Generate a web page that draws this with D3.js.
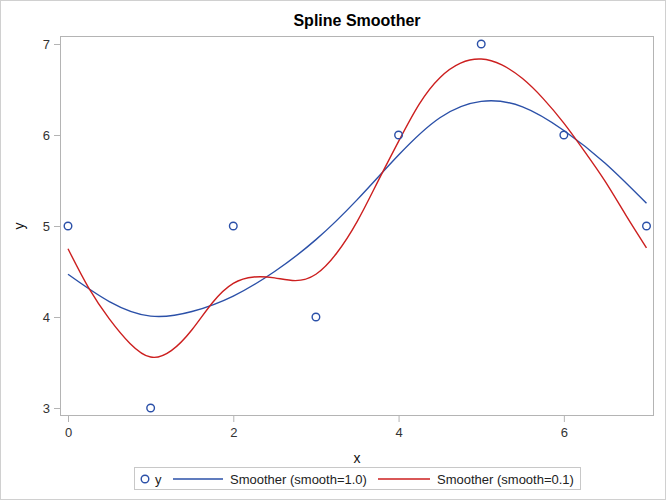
<!DOCTYPE html>
<html><head><meta charset="utf-8">
<script src="https://cdn.jsdelivr.net/npm/d3@7/dist/d3.min.js"></script>
<style>body{margin:0;background:#fff}svg{display:block;font-family:"Liberation Sans",Arial,sans-serif}</style>
</head><body><svg id="c" width="666" height="500"></svg>
<script>
const pointsX = [0,1,2,3,4,5,6,7];
const pointsY = [5,3,5,4,6,7,6,5];
const smooth1X = [0,0.5,1,1.5,2,2.5,3,3.5,4,4.5,5,5.5,6,6.5,7];
const smooth1Y = [4.47,4.17,4.01,4.06,4.23,4.50,4.85,5.29,5.78,6.19,6.37,6.31,6.05,5.69,5.25];
const smooth01X = [0,0.25,0.5,0.75,1,1.25,1.5,1.75,2,2.25,2.5,2.75,3,3.25,3.5,3.75,4,4.25,4.5,4.75,5,5.25,5.5,5.75,6,6.25,6.5,6.75,7];
const smooth01Y = [4.75,4.32,3.98,3.71,3.56,3.63,3.86,4.16,4.37,4.44,4.43,4.40,4.47,4.70,5.05,5.49,5.93,6.34,6.63,6.79,6.835,6.77,6.62,6.40,6.13,5.82,5.49,5.12,4.76];
const xTicks = [0,2,4,6];
const yTicks = [3,4,5,6,7];
const legendLabels = ["y","Smoother (smooth=1.0)","Smoother (smooth=0.1)"];

const blue = "#2b50a8", red = "#cc1f1f", frame = "#b4b4b4";
const svg = d3.select("#c");
svg.append("rect").attr("x",0.5).attr("y",0.5).attr("width",665).attr("height",499).attr("fill","#fff").attr("stroke","#d0d0d0");

const L=60,T=36,R=654,B=416;
const x = d3.scaleLinear().domain([0,7]).range([68,646.5]);
const y = d3.scaleLinear().domain([3,7]).range([408,44]);

svg.append("text").attr("x",(L+R)/2).attr("y",26).attr("text-anchor","middle")
  .attr("font-weight","bold").attr("font-size",16).text("Spline Smoother");

const xa = svg.append("g").attr("transform",`translate(0,${B})`)
  .call(d3.axisBottom(x).tickValues(xTicks).tickSize(6).tickPadding(6).tickFormat(d3.format("d")));
const ya = svg.append("g").attr("transform",`translate(${L},0)`)
  .call(d3.axisLeft(y).tickValues(yTicks).tickSize(6).tickPadding(4).tickFormat(d3.format("d")));
[xa,ya].forEach(a=>{
  a.select(".domain").remove();
  a.selectAll(".tick line").attr("stroke",frame);
  a.selectAll(".tick text").attr("font-size",13).attr("fill","#333").attr("font-family","Liberation Sans, Arial, sans-serif");
});

svg.append("rect").attr("x",L+0.5).attr("y",T+0.5).attr("width",R-L-1).attr("height",B-T-1)
  .attr("fill","none").attr("stroke",frame);

svg.append("text").attr("x",(L+R)/2).attr("y",463).attr("text-anchor","middle").attr("font-size",14).attr("fill","#111").text("x");
svg.append("text").attr("transform","translate(24,226) rotate(-90)").attr("text-anchor","middle").attr("font-size",14).attr("fill","#111").text("y");

const line = d3.line().x(d=>x(d[0])).y(d=>y(d[1])).curve(d3.curveNatural);
svg.append("path").datum(smooth1X.map((v,i)=>[v,smooth1Y[i]])).attr("d",line)
  .attr("fill","none").attr("stroke",blue).attr("stroke-width",1.4);
svg.append("path").datum(smooth01X.map((v,i)=>[v,smooth01Y[i]])).attr("d",line)
  .attr("fill","none").attr("stroke",red).attr("stroke-width",1.4);

svg.selectAll("circle.pt").data(pointsX.map((v,i)=>[v,pointsY[i]])).enter().append("circle")
  .attr("cx",d=>x(d[0])).attr("cy",d=>y(d[1])).attr("r",3.8)
  .attr("fill","none").attr("stroke",blue).attr("stroke-width",1.4);

// legend
const lg = svg.append("g");
lg.append("rect").attr("x",134.5).attr("y",467.5).attr("width",446).attr("height",22).attr("fill","#fff").attr("stroke","#c8c8c8");
const ly = 479;
lg.append("circle").attr("cx",145).attr("cy",ly).attr("r",3.8).attr("fill","none").attr("stroke",blue).attr("stroke-width",1.4);
lg.append("text").attr("x",155).attr("y",ly+4.5).attr("font-size",13).attr("fill","#222").text(legendLabels[0]);
lg.append("line").attr("x1",173).attr("x2",223).attr("y1",ly).attr("y2",ly).attr("stroke",blue).attr("stroke-width",1.4);
lg.append("text").attr("x",230).attr("y",ly+4.5).attr("font-size",13).attr("fill","#222").text(legendLabels[1]);
lg.append("line").attr("x1",378).attr("x2",430).attr("y1",ly).attr("y2",ly).attr("stroke",red).attr("stroke-width",1.4);
lg.append("text").attr("x",437).attr("y",ly+4.5).attr("font-size",13).attr("fill","#222").text(legendLabels[2]);
</script></body></html>
